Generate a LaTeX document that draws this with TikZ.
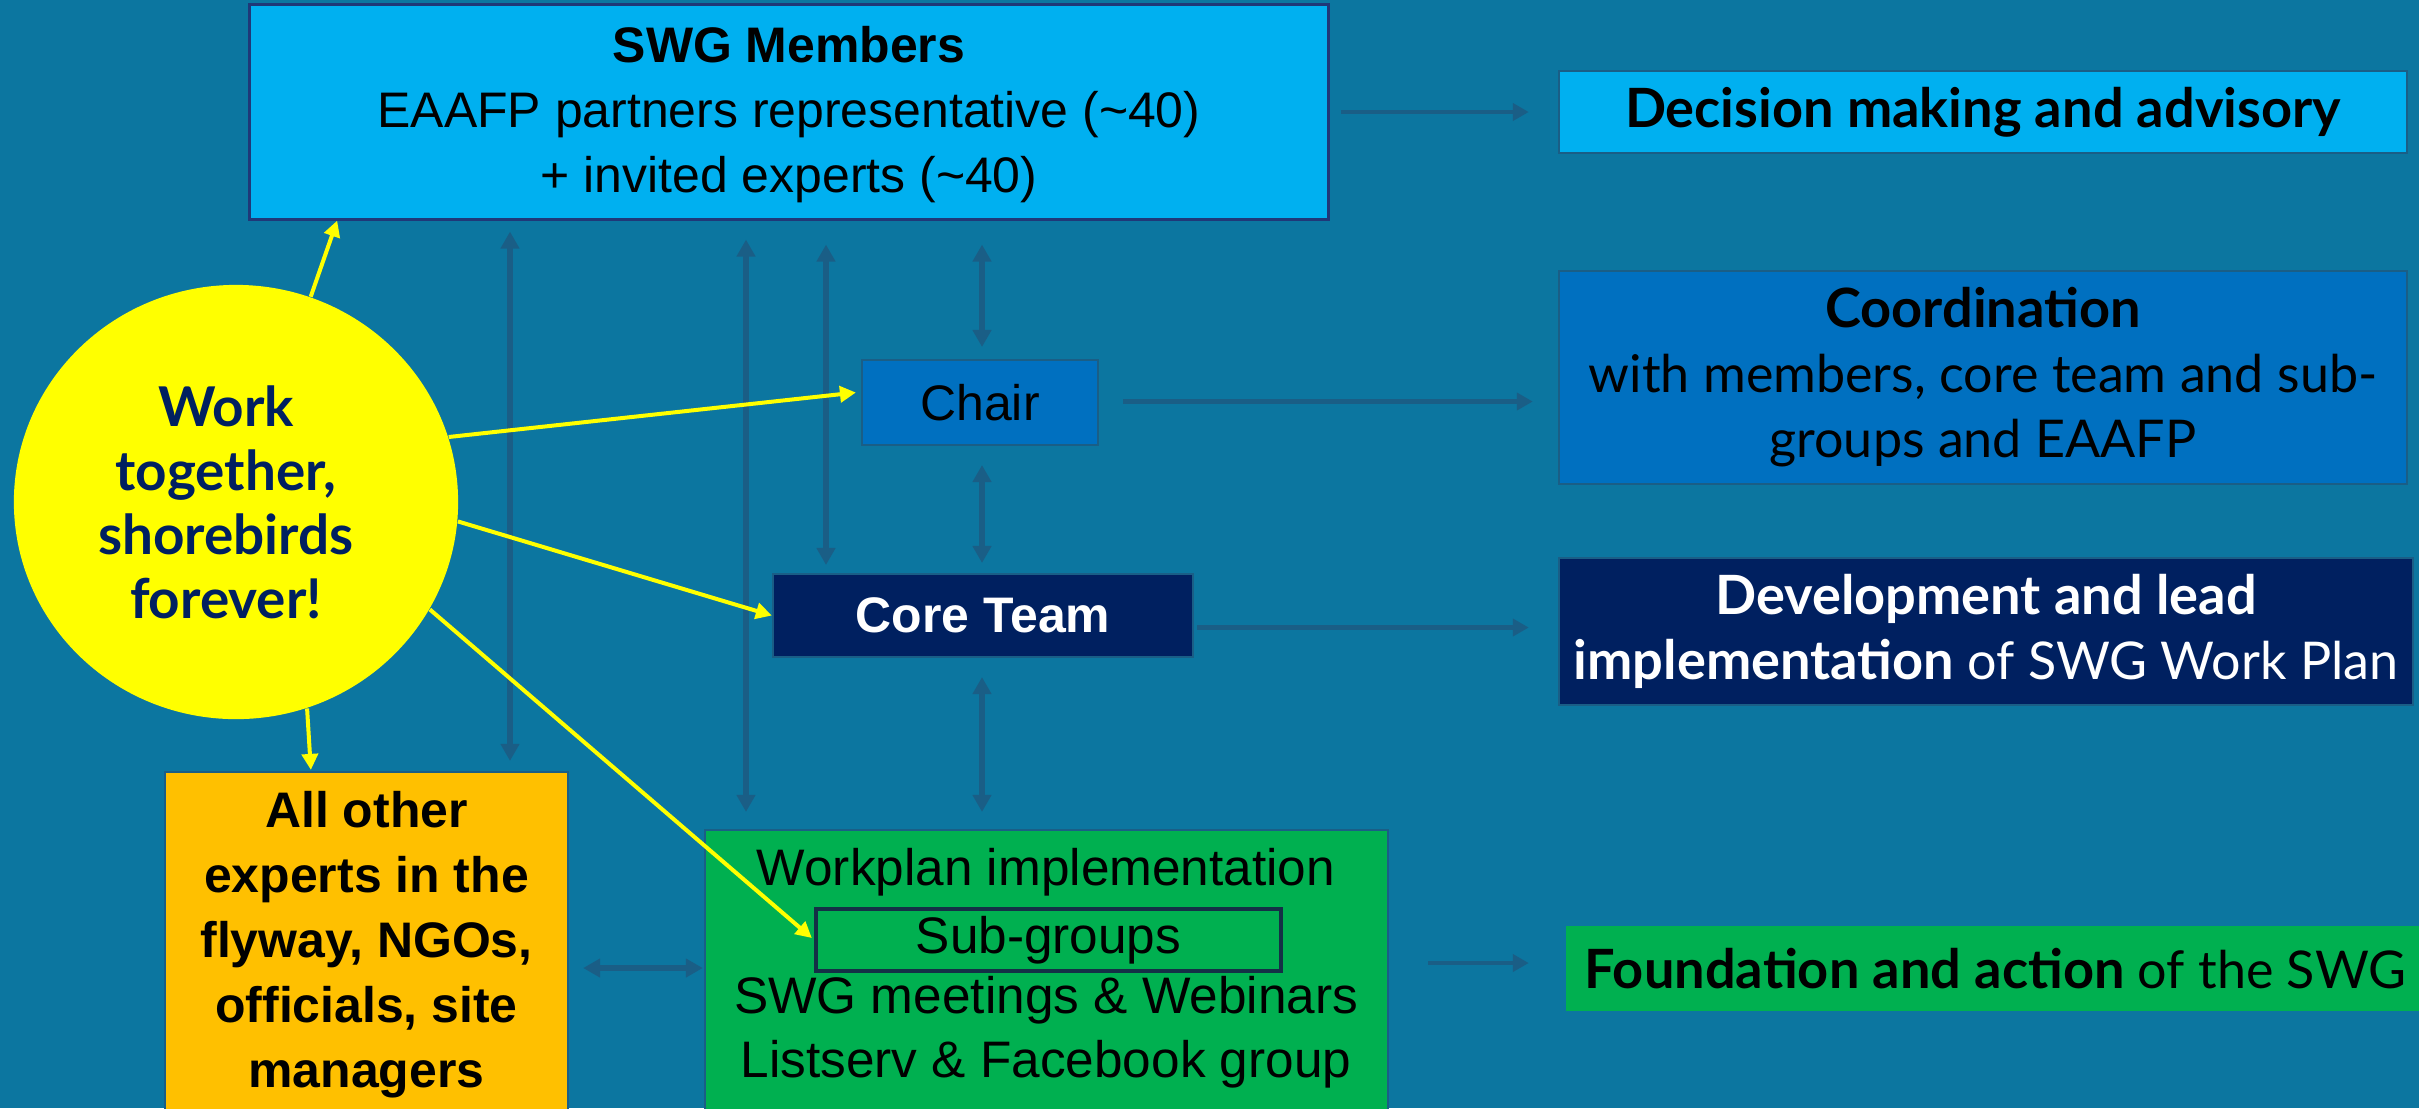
\documentclass[tikz,border=0pt]{standalone}
\usepackage{fontspec}
\setmainfont{Liberation Sans}
\newfontfamily\latof{Lato}
\usetikzlibrary{arrows.meta,calc,shapes.geometric}
\definecolor{bg}{RGB}{12,118,160}
\definecolor{arr}{RGB}{26,94,134}
\definecolor{lblue}{RGB}{0,176,240}
\definecolor{mblue}{RGB}{0,112,192}
\definecolor{navy}{RGB}{0,32,96}
\definecolor{grn}{RGB}{0,176,80}
\definecolor{org}{RGB}{255,192,0}
\definecolor{yel}{RGB}{255,255,0}
\definecolor{swgborder}{RGB}{31,56,120}
\definecolor{subborder}{RGB}{20,48,70}
\newcommand\fsL{\fontsize{14.2pt}{18.5pt}\selectfont}
\newcommand\fsG{\fontsize{14.6pt}{18.2pt}\selectfont}
\newcommand\fsR{\latof\fontsize{14.8pt}{18.5pt}\selectfont}
\newcommand\fsRB{\latof\bfseries\fontsize{15.4pt}{18.5pt}\selectfont}
\newcommand\fsC{\latof\bfseries\fontsize{15.6pt}{18.2pt}\selectfont}
\newcommand\bt[1]{{\fsRB #1}}
\tikzset{
  box/.style={rectangle, inner sep=0pt, align=center, draw=arr, line width=0.02cm},
  txt/.style={inner sep=0pt, align=center, font=\fsG},
  darr/.style={draw=arr, line width=0.045cm, -{Triangle[length=0.16cm,width=0.17cm]}},
  dbl/.style={draw=arr, line width=0.06cm, {Triangle[length=0.17cm,width=0.18cm]}-{Triangle[length=0.17cm,width=0.18cm]}},
  yarr/.style={draw=yel, line width=0.04cm, -{Triangle[length=0.16cm,width=0.16cm]}}
}
\begin{document}
\begin{tikzpicture}[x=0.01cm,y=-0.01cm]
\useasboundingbox (0,0) rectangle (2419,1108);
\fill[bg] (0,0) rectangle (2419,1108);

% left / centre boxes
\node[box, fill=lblue, draw=swgborder, line width=0.03cm, minimum width=10.78cm, minimum height=2.14cm, font=\fsL] (swg) at (789,112)
  {\rule{0pt}{0.42cm}\textbf{SWG Members}\\EAAFP partners representative (\textasciitilde40)\\+ invited experts (\textasciitilde40)};
\node[box, fill=mblue, minimum width=2.36cm, minimum height=0.85cm, font=\fsL] (chair) at (980,402.5) {Chair};
\node[box, fill=navy, text=white, minimum width=4.20cm, minimum height=0.83cm, font=\fsL\bfseries] (core) at (983,615.5) {Core Team};
\node[box, fill=grn, minimum width=6.83cm, minimum height=2.80cm] (green) at (1046.5,970) {};
\node[txt] (gl1) at (1046,872) {Workplan implementation};
\node[box, draw=subborder, line width=0.04cm, minimum width=4.65cm, minimum height=0.62cm, font=\fsG] (sub) at (1048.5,940) {Sub-groups};
\node[txt] (gl3) at (1046,1000) {SWG meetings \& Webinars};
\node[txt] (gl4) at (1046,1064) {Listserv \& Facebook group};
\node[box, fill=org, minimum width=4.03cm, minimum height=3.40cm, font=\fsL\bfseries] (orange) at (366.5,942)
  {\rule{0pt}{0.42cm}All other\\experts in the\\flyway, NGOs,\\officials, site\\managers};
\node[ellipse, fill=yel, inner sep=0pt, minimum width=4.44cm, minimum height=4.34cm, align=center, text=navy, font=\fsC,
  text width=2.9cm] (circ) at (236,502)
  {\rule{0pt}{0.40cm}\hspace*{-0.2cm}Work\\\hspace*{-0.2cm}together,\\\hspace*{-0.2cm}shorebirds\\\hspace*{-0.2cm}forever!};

% right boxes
\node[box, fill=lblue, minimum width=8.48cm, minimum height=0.82cm, font=\fsRB] (decision) at (1983,112) {Decision making and advisory};
\node[box, fill=mblue, minimum width=8.48cm, minimum height=2.13cm, font=\fsR] (coord) at (1983,377.5)
  {\bt{Coordination}\\with members, core team and sub-\\groups and EAAFP};
\node[box, fill=navy, text=white, minimum width=8.54cm, minimum height=1.47cm, font=\fsR] (dev) at (1986,631.5)
  {\bt{Development and lead}\\\bt{implementation} of SWG Work Plan};
\node[box, fill=grn, draw=none, minimum width=8.59cm, minimum height=0.85cm, font=\fsR] (found) at (1995.5,968.5)
  {\bt{Foundation and action} of the SWG};

% horizontal arrows to the right
\draw[darr] ($(swg.east)+(11,0)$) -- ($(decision.west)+(-29,0)$);
\draw[darr] ($(chair.east)+(24,-1)$) -- ($(chair.east -| coord.west)+(-25,-1)$);
\draw[darr] ($(core.east)+(3,12)$) -- ($(core.east -| dev.west)+(-29,12)$);
\draw[darr] ($(green.east)+(39,-7)$) -- ($(green.east -| found.west)+(-36,-7)$);

% vertical double arrows
\coordinate (v1) at (510,0);
\coordinate (v2) at (746,0);
\coordinate (v3) at (826,0);
\coordinate (v4) at (982,0);
\draw[dbl, shorten <=0.11cm, shorten >=0.10cm] (swg.south -| v1) -- (orange.north -| v1);
\draw[dbl, shorten <=0.19cm, shorten >=0.17cm] (swg.south -| v2) -- (green.north -| v2);
\draw[dbl, shorten <=0.24cm, shorten >=0.08cm] (swg.south -| v3) -- (core.north -| v3);
\draw[dbl, shorten <=0.24cm, shorten >=0.12cm] (swg.south -| v4) -- (chair.north -| v4);
\draw[dbl, shorten <=0.19cm, shorten >=0.10cm] (chair.south -| v4) -- (core.north -| v4);
\draw[dbl, shorten <=0.19cm, shorten >=0.17cm] (core.south -| v4) -- (green.north -| v4);
\draw[dbl, shorten <=0.14cm, shorten >=0.01cm] ($(orange.east)+(0,26)$) -- ($(orange.east -| green.west)+(0,26)$);

% yellow arrows
\draw[yarr] (circ.70.3) -- ($(swg.south west)+(89,0)$);
\draw[yarr] (circ.17.7) -- ($(chair.west)+(-5,-10)$);
\draw[yarr] (circ.-5.4) -- (core.west);
\draw[yarr] (circ.-29.5) -- ($(sub.west)+(-2,-2)$);
\draw[yarr] (circ.-71.8) -- ($(orange.north west)+(147,-1)$);
\end{tikzpicture}
\end{document}
